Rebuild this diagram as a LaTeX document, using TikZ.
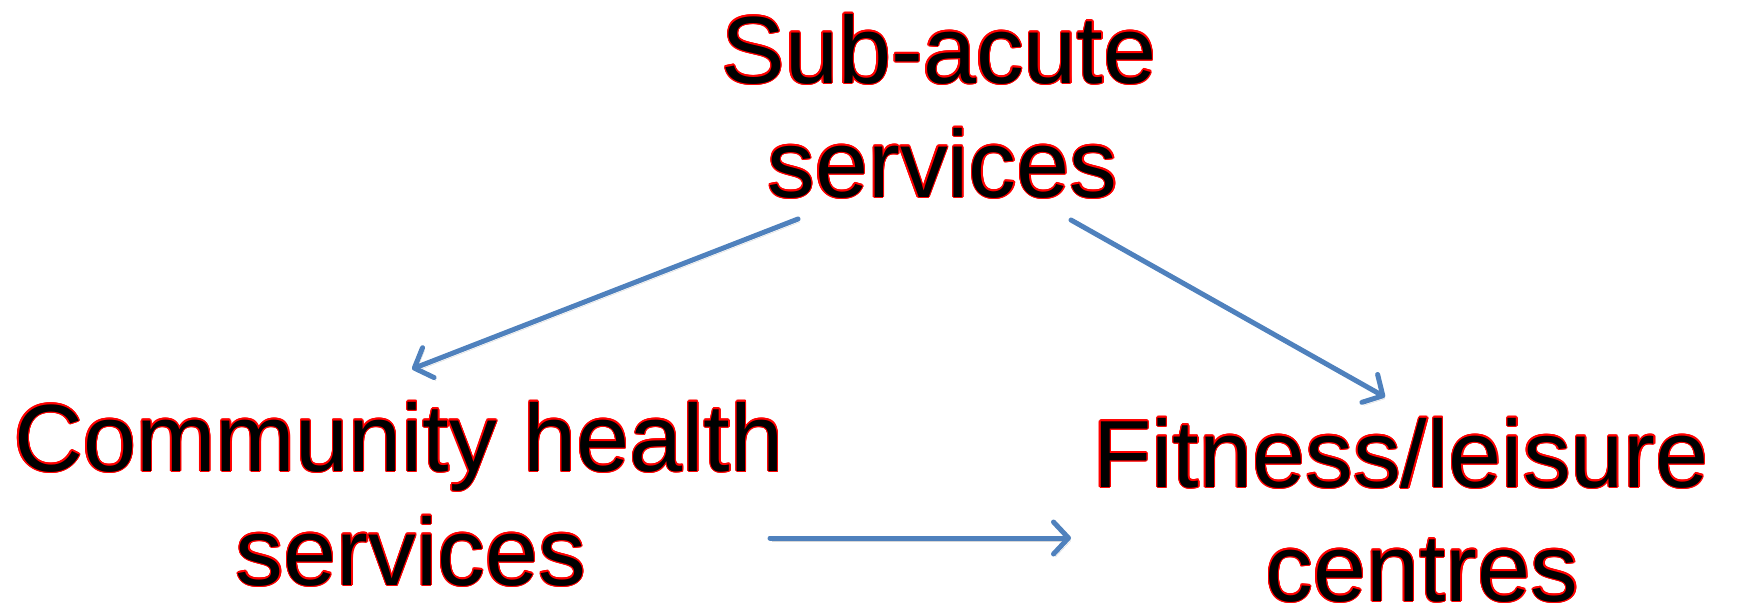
\documentclass[tikz,border=0pt]{standalone}
\usepackage{fontspec}
\setmainfont{Liberation Sans}
\usepackage{contour}
\usetikzlibrary{arrows.meta}

\definecolor{flowblue}{HTML}{4F81BD}
\contourlength{1.3pt}

% black letters with a thin red rim
\newcommand{\rimtext}[1]{\contour{red}{#1}}

\tikzset{
  service/.style={anchor=base, align=center, inner sep=0pt,
    font=\fontsize{95.5}{114}\selectfont},
  flow/.style={draw=flowblue, line width=5pt, line cap=round,
    -{Straight Barb[round, length=15pt, width=32pt]},
    preaction={draw=black!45, opacity=0.35,
      transform canvas={xshift=2pt, yshift=-3pt}}}
}

\begin{document}
\begin{tikzpicture}[x=1pt, y=-1pt]

\useasboundingbox (0,0) rectangle (1737,606);

% base anchor sits on the last line
\node[service] (sub) at (939,197) {\rimtext{Sub-acute}\\\hspace*{7pt}\rimtext{services}};
\node[service] (com) at (399,585) {\rimtext{Community health}\\\hspace*{24pt}\rimtext{services}};
\node[service] (fit) at (1401,601) {\rimtext{Fitness/leisure}\\\hspace*{42pt}\rimtext{centres}};

\draw[flow] ([shift={(-141,22)}]sub.base) -- ([shift={(13,-216)}]com.base);
\draw[flow] ([shift={(132,23)}]sub.base) -- ([shift={(-16,-204)}]fit.base);
\draw[flow] ([shift={(371,-47)}]com.base) -- ([shift={(-330,-63)}]fit.base);

\end{tikzpicture}
\end{document}
